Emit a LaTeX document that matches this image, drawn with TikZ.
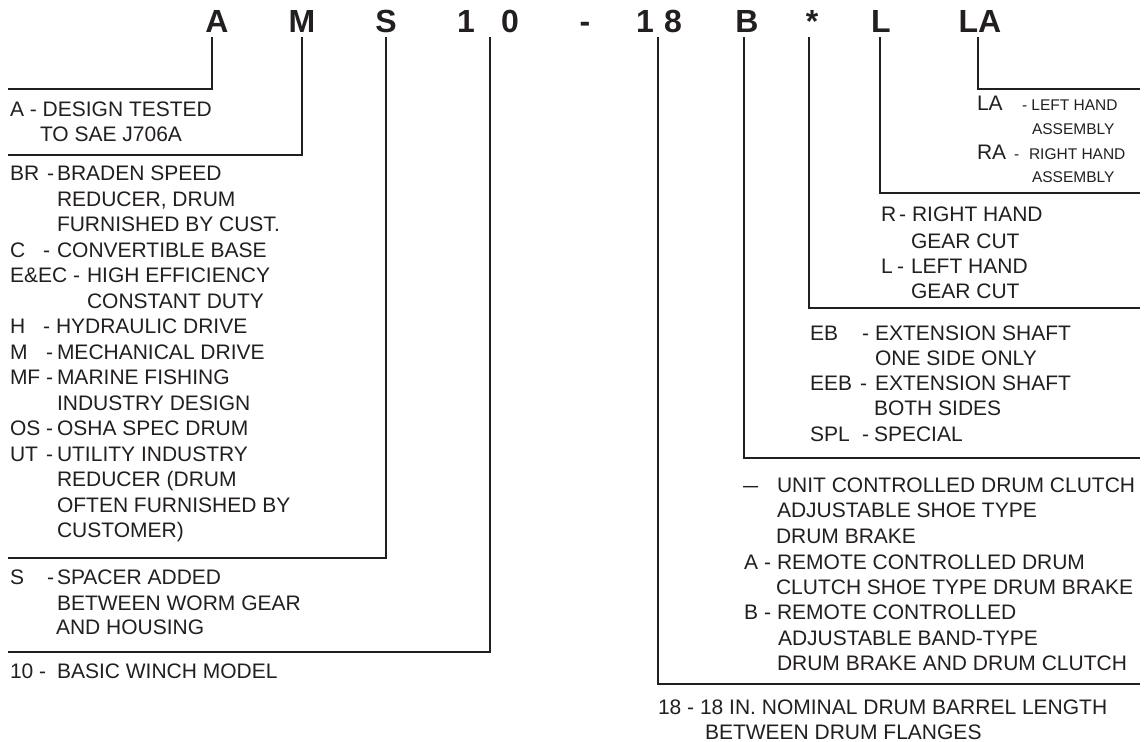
\documentclass[tikz,border=0pt]{standalone}
\usepackage{fontspec}
\setmainfont{Liberation Sans}
\usepackage{graphicx}
\definecolor{ink}{HTML}{231F20}
\begin{document}
\begin{tikzpicture}[x=1pt,y=-1pt,
  every node/.style={inner sep=0pt, outer sep=0pt, text=ink},
  hdr/.style={anchor=base, font=\fontsize{32}{36}\selectfont\bfseries},
  lt/.style={anchor=base west, font=\fontsize{21}{25}\selectfont},
  ls/.style={anchor=base west, font=\fontsize{15.5}{18}\selectfont},
  conn/.style={draw=ink, line width=2pt, line join=miter}]
\fill[white] (0,0) rectangle (1144,742);
\useasboundingbox (0,0) rectangle (1144,742);

% header
\node[hdr] (hA) at (217,32) {A};
\node[hdr] (hM) at (302,32) {M};
\node[hdr] (hS) at (386,32) {S};
\node[hdr] (h1) at (466,32) {1};
\node[hdr] (h0) at (510,32) {0};
\node[hdr] (hd) at (585,32) {-};
\node[hdr] (h1b) at (645,32) {1};
\node[hdr] (h8) at (673,32) {8};
\node[hdr] (hB) at (747,32) {B};
\node[hdr] (hst) at (812,32) {*};
\node[hdr] (hL) at (881,32) {L};
\node[hdr] (hLA) at (980,32) {LA};

% connector coordinates
\coordinate (sA) at (212,37);   \coordinate (eA) at (8,89);
\coordinate (sM) at (302,37);   \coordinate (eM) at (8,155);
\coordinate (sS) at (386,37);   \coordinate (eS) at (8,558);
\coordinate (s10) at (490,37);  \coordinate (e10) at (8,652);
\coordinate (s18) at (658,37);  \coordinate (e18) at (1140,684);
\coordinate (sB) at (744,37);   \coordinate (eB) at (1140,458);
\coordinate (sst) at (809,37);  \coordinate (est) at (1140,308);
\coordinate (sL) at (880,37);   \coordinate (eL) at (1140,193);
\coordinate (sLA) at (978,37);  \coordinate (eLA) at (1140,89);

\draw[conn] (sA) |- (eA);
\draw[conn] (sM) |- (eM);
\draw[conn] (sS) |- (eS);
\draw[conn] (s10) |- (e10);
\draw[conn] (s18) |- (e18);
\draw[conn] (sB) |- (eB);
\draw[conn] (sst) |- (est);
\draw[conn] (sL) |- (eL);
\draw[conn] (sLA) |- (eLA);

% ---- A
\node[lt] (a1) at (10,116.5) {A - DESIGN TESTED};
\node[lt] (a2) at (40,141.5) {TO SAE J706A};

% ---- M
\node[lt] (m1l) at (10,180.5) {BR};
\node[lt] (m1d) at (47,180.5) {-};
\node[lt] (m1) at (57,180.5) {BRADEN SPEED};
\node[lt] (m2) at (57,206) {REDUCER, DRUM};
\node[lt] (m3) at (57,231.5) {FURNISHED BY CUST.};
\node[lt] (m4l) at (10,257) {C};
\node[lt] (m4d) at (43,257) {-};
\node[lt] (m4) at (57,257) {CONVERTIBLE BASE};
\node[lt] (m5l) at (10,282.5) {E\&EC};
\node[lt] (m5d) at (73,282.5) {-};
\node[lt] (m5) at (87,282.5) {HIGH EFFICIENCY};
\node[lt] (m6) at (87,308) {CONSTANT DUTY};
\node[lt] (m7l) at (10,333.5) {H};
\node[lt] (m7d) at (43,333.5) {-};
\node[lt] (m7) at (56,333.5) {HYDRAULIC DRIVE};
\node[lt] (m8l) at (10,359) {M};
\node[lt] (m8d) at (46,359) {-};
\node[lt] (m8) at (57,359) {MECHANICAL DRIVE};
\node[lt] (m9l) at (10,384.5) {MF};
\node[lt] (m9d) at (46,384.5) {-};
\node[lt] (m9) at (57,384.5) {MARINE FISHING};
\node[lt] (m10) at (57,410) {INDUSTRY DESIGN};
\node[lt] (m11l) at (10,435.5) {OS};
\node[lt] (m11d) at (46,435.5) {-};
\node[lt] (m11) at (57,435.5) {OSHA SPEC DRUM};
\node[lt] (m12l) at (10,461) {UT};
\node[lt] (m12d) at (46,461) {-};
\node[lt] (m12) at (57,461) {UTILITY INDUSTRY};
\node[lt] (m13) at (57,486.5) {REDUCER (DRUM};
\node[lt] (m14) at (57,512) {OFTEN FURNISHED BY};
\node[lt] (m15) at (57,537.5) {CUSTOMER)};

% ---- S
\node[lt] (s1l) at (10,584.5) {S};
\node[lt] (s1d) at (47,584.5) {-};
\node[lt] (s1) at (57,584.5) {SPACER ADDED};
\node[lt] (s2) at (57,610.5) {BETWEEN WORM GEAR};
\node[lt] (s3) at (56,634.5) {AND HOUSING};

% ---- 10
\node[lt] (n1l) at (10,678.5) {10};
\node[lt] (n1d) at (39,678.5) {-};
\node[lt] (n1) at (57,678.5) {BASIC WINCH MODEL};

% ---- LA
\node[lt] (la1l) at (977,110.5) {LA};
\node[ls] (la1) at (1022,110.5) {- LEFT HAND};
\node[ls] (la2) at (1032,134) {ASSEMBLY};
\node[lt] (la3l) at (977,159.5) {RA};
\node[ls] (la3d) at (1014,159.5) {-};
\node[ls] (la3) at (1029,159.5) {RIGHT HAND};
\node[ls] (la4) at (1032,182) {ASSEMBLY};

% ---- L
\node[lt] (l1l) at (881,221.5) {R};
\node[lt] (l1d) at (899,221.5) {-};
\node[lt] (l1) at (912,221.5) {RIGHT HAND};
\node[lt] (l2) at (911,248.5) {GEAR CUT};
\node[lt] (l3l) at (881,273.5) {L};
\node[lt] (l3d) at (897,273.5) {-};
\node[lt] (l3) at (911,273.5) {LEFT HAND};
\node[lt] (l4) at (911,298.5) {GEAR CUT};

% ---- *
\node[lt] (e1l) at (810,340.5) {EB};
\node[lt] (e1d) at (862,340.5) {-};
\node[lt] (e1) at (875,340.5) {EXTENSION SHAFT};
\node[lt] (e2) at (875,365.5) {ONE SIDE ONLY};
\node[lt] (e3l) at (810,390.5) {EEB};
\node[lt] (e3d) at (860,390.5) {-};
\node[lt] (e3) at (875,390.5) {EXTENSION SHAFT};
\node[lt] (e4) at (874,415.5) {BOTH SIDES};
\node[lt] (e5l) at (810,441.5) {SPL};
\node[lt] (e5d) at (862,441.5) {-};
\node[lt] (e5) at (874,441.5) {SPECIAL};

% ---- B
\node[lt] (b1l) at (743,492.5) {\scalebox{0.72}[1]{—}};
\node[lt] (b1) at (777,492.5) {UNIT CONTROLLED DRUM CLUTCH};
\node[lt] (b2) at (777,517.5) {ADJUSTABLE SHOE TYPE};
\node[lt] (b3) at (776,543.5) {DRUM BRAKE};
\node[lt] (b4l) at (744,569.5) {A};
\node[lt] (b4d) at (764,569.5) {-};
\node[lt] (b4) at (777,569.5) {REMOTE CONTROLLED DRUM};
\node[lt] (b5) at (776,594.5) {CLUTCH SHOE TYPE DRUM BRAKE};
\node[lt] (b6l) at (744,619.5) {B};
\node[lt] (b6d) at (764,619.5) {-};
\node[lt] (b6) at (777,619.5) {REMOTE CONTROLLED};
\node[lt] (b7) at (778,645.5) {ADJUSTABLE BAND-TYPE};
\node[lt] (b8) at (777,670.5) {DRUM BRAKE AND DRUM CLUTCH};

% ---- 18
\node[lt] (d1) at (658,714.5) {18 - 18 IN. NOMINAL DRUM BARREL LENGTH};
\node[lt] (d2) at (705,739.5) {BETWEEN DRUM FLANGES};
\end{tikzpicture}
\end{document}
